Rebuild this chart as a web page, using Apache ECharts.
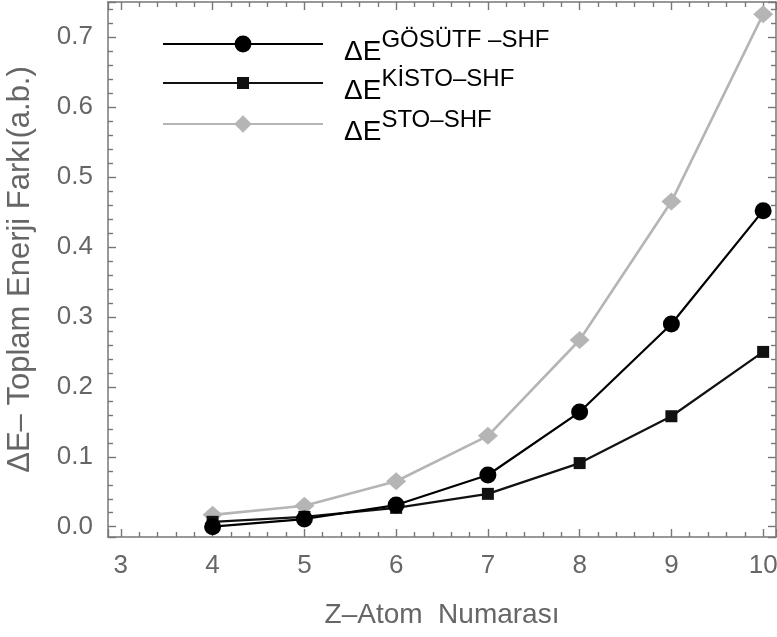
<!DOCTYPE html>
<html>
<head>
<meta charset="utf-8">
<script src="https://cdn.jsdelivr.net/npm/echarts@6/dist/echarts.min.js"></script>
<style>
html,body{margin:0;padding:0;background:#fff;}
#chart{width:777px;height:637px;}
</style>
</head>
<body>
<div id="chart"></div>
<script>
// ---- data ----
const atomNumbers = [4, 5, 6, 7, 8, 9, 10];
const gosutfValues = [0.000, 0.011, 0.031, 0.074, 0.164, 0.290, 0.452];
const kistoValues  = [0.007, 0.014, 0.027, 0.047, 0.091, 0.158, 0.250];
const stoValues    = [0.017, 0.030, 0.065, 0.130, 0.267, 0.465, 0.733];
const seriesNames = ['GÖSÜTF', 'KİSTO', 'STO'];
const supTexts = ['GÖSÜTF \u2013SHF', 'KİSTO\u2013SHF', 'STO\u2013SHF'];
const xTitle = 'Z\u2013Atom  Numarası';
const yTitle = 'ΔE\u2013 Toplam Enerji Farkı(a.b.)';

const xMin = 2.86, xMax = 10.14;
const yMin = -0.0147, yMax = 0.7504;

const FONT = 'Liberation Sans, Arial, sans-serif';
const FRAME = '#777777';
const LABEL = '#666666';

function pairs(vals) { return atomNumbers.map((x, i) => [x, vals[i]]); }

const xFmt = v => Math.abs(v - Math.round(v)) < 1e-6 ? String(Math.round(v)) : '';
const yFmt = v => Math.abs(v * 10 - Math.round(v * 10)) < 1e-6 ? (Math.round(v * 10) / 10).toFixed(1) : '';

function mkAxis(pos, min, max, step, extra) {
  return Object.assign({
    type: 'value', position: pos, min: min, max: max,
    minInterval: step, maxInterval: step,
    axisLine: { show: true, onZero: false, lineStyle: { color: FRAME, width: 1.5 } },
    axisTick: { show: true, inside: true, length: 8, lineStyle: { color: FRAME, width: 1.4 } },
    minorTick: { show: true, splitNumber: 5, length: 5, lineStyle: { color: FRAME, width: 1.4 } },
    axisLabel: { show: false },
    splitLine: { show: false }
  }, extra || {});
}

const legendRich = {
  d: { fontSize: 28, fontFamily: FONT, color: '#000', padding: [16, 0, 0, 16], verticalAlign: 'bottom' },
  s: { fontSize: 24, fontFamily: FONT, color: '#000', padding: [6, 0, 0, 0], verticalAlign: 'top' }
};
function legendFmt(name) {
  const i = seriesNames.indexOf(name);
  return '{d|ΔE}{s|' + supTexts[i] + '}';
}
function mkLegend(name, top, h) {
  return {
    data: [name], left: 162, top: top, padding: 0,
    itemWidth: 160, itemHeight: h, selectedMode: false,
    formatter: legendFmt, textStyle: { rich: legendRich }
  };
}

const chart = echarts.init(document.getElementById('chart'), null, { renderer: 'canvas' });
chart.setOption({
  animation: false,
  backgroundColor: '#fff',
  grid: { left: 108, right: 1, top: 2, bottom: 100, containLabel: false, outerBoundsMode: 'none' },
  legend: [
    mkLegend(seriesNames[0], 28, 21),
    mkLegend(seriesNames[1], 67, 15),
    mkLegend(seriesNames[2], 108, 22)
  ],
  xAxis: [
    mkAxis('bottom', xMin, xMax, 1, {
      axisLabel: { show: true, formatter: xFmt, color: LABEL, fontSize: 26, fontFamily: FONT, margin: 16 },
      name: xTitle, nameLocation: 'middle', nameGap: 64,
      nameTextStyle: { color: LABEL, fontSize: 28, fontFamily: FONT }
    }),
    mkAxis('top', xMin, xMax, 1)
  ],
  yAxis: [
    mkAxis('left', yMin, yMax, 0.1, {
      axisLabel: { show: true, formatter: yFmt, color: LABEL, fontSize: 26, fontFamily: FONT, margin: 15 },
      name: yTitle, nameLocation: 'middle', nameGap: 72,
      nameTextStyle: { color: LABEL, fontSize: 31, fontFamily: FONT }
    }),
    mkAxis('right', yMin, yMax, 0.1)
  ],
  series: [
    {
      name: seriesNames[0], type: 'line', data: pairs(gosutfValues), z: 4,
      symbol: 'circle', symbolSize: 17,
      lineStyle: { color: '#000', width: 2.2 }, itemStyle: { color: '#000' }
    },
    {
      name: seriesNames[1], type: 'line', data: pairs(kistoValues), z: 3,
      symbol: 'rect', symbolSize: 12,
      lineStyle: { color: '#111', width: 2.2 }, itemStyle: { color: '#111' }
    },
    {
      name: seriesNames[2], type: 'line', data: pairs(stoValues), z: 2,
      symbol: 'diamond', symbolSize: [20, 18],
      lineStyle: { color: '#b5b5b5', width: 2.6 }, itemStyle: { color: '#b5b5b5' }
    }
  ]
});
</script>
</body>
</html>
